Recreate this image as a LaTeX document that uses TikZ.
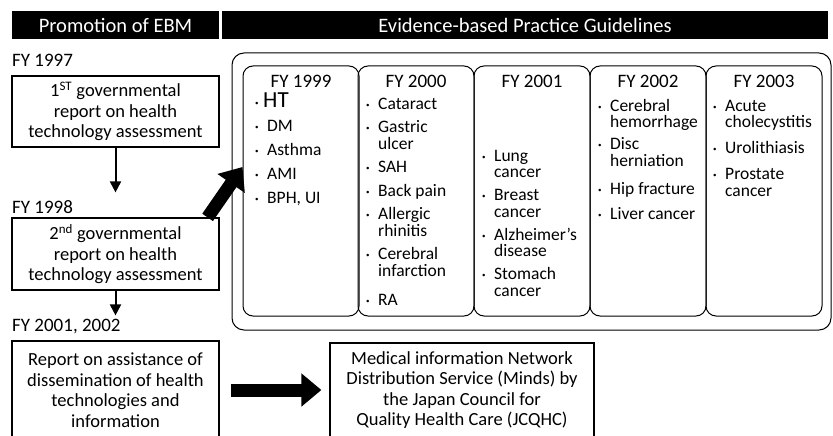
\documentclass[tikz,border=0pt]{standalone}
\usepackage{fontspec}
\setmainfont{Carlito}
\usetikzlibrary{arrows.meta,positioning}

\tikzset{
  bar/.style={fill=black, text=white, minimum height=28pt, inner sep=0pt, font=\fontsize{20.5}{22}\selectfont},
  report/.style={draw, line width=1.2pt, minimum width=207pt, align=center, inner sep=0pt, font=\fontsize{18.5}{20.5}\selectfont},
  year/.style={anchor=west, inner sep=0pt, font=\fontsize{19}{20}\selectfont},
  panel/.style={draw, line width=1pt, rounded corners=10pt, minimum width=116pt, minimum height=250pt, inner sep=0pt},
  ptitle/.style={font=\fontsize{19}{20}\selectfont, inner sep=0pt},
  items/.style={anchor=north west, align=left, inner sep=0pt, font=\fontsize{17.5}{16.5}\selectfont\lineskiplimit-20pt\relax},
  flow/.style={line width=2pt, -{Triangle[length=11pt,width=11pt]}},
  fat/.style={line width=13pt, -{Triangle[length=20pt,width=32pt]}},
}
\newcommand{\itdot}{\raisebox{2pt}{\scriptsize\textbullet}}
\newcommand{\itm}[1]{\rule{0pt}{13pt}\makebox[12pt][l]{\itdot}#1}
\newcommand{\contd}[1]{\rule{0pt}{13pt}\hspace*{12pt}#1}

\begin{document}
\begin{tikzpicture}[x=1pt,y=-1pt]
\useasboundingbox (0,0) rectangle (833,436);

\node[bar, minimum width=207pt] (hdrebm) at (115.5,25) {Promotion of EBM};
\node[bar, minimum width=606pt] (hdrgl) at (525,25) {Evidence-based Practice Guidelines};

\node[year] (fy97) at (12,60) {FY 1997};
\node[report, minimum height=71pt] (rep1) at (115.5,111.5)
  {1\textsuperscript{ST} governmental\\report on health\\technology assessment};
\node[year] (fy98) at (12,207) {FY 1998};
\node[report, minimum height=72pt] (rep2) at (115.5,254)
  {2\textsuperscript{nd} governmental\\report on health\\technology assessment};
\node[year] (fy0102) at (12,327) {FY 2001, 2002};
\node[report, minimum height=98pt] (rep3) at (115.5,390)
  {Report on assistance of\\dissemination of health\\technologies and\\information};
\node[report, minimum width=264pt, minimum height=94pt] (minds) at (462,390)
  {Medical information Network\\Distribution Service (Minds) by\\the Japan Council for\\Quality Health Care (JCQHC)};

\draw[flow, shorten >=25pt] (rep1) -- (rep2);
\draw[flow, shorten >=25pt] (rep2) -- (rep3);

\node[draw, line width=1pt, rounded corners=12pt, minimum width=599pt, minimum height=277pt] (guide) at (531.5,191.5) {};
\foreach \x/\yr in {243/1999, 358/2000, 474/2001, 590/2002, 706/2003} {
\node[panel] (p\yr) at (\x+58,191) {};
\node[ptitle] (t\yr) at (\x+58,81) {FY \yr};
}

\node[items] (l1999) at (255,91) {\rule{0pt}{16pt}\makebox[8pt][l]{\itdot}{\fontsize{23}{19}\selectfont HT}\\[7.5pt]
\itm{DM}\\[7.5pt]
\itm{Asthma}\\[7.5pt]
\itm{AMI}\\[7.5pt]
\itm{BPH, UI}};
\node[items] (l2000) at (366,96) {\itm{Cataract}\\[7pt]
\itm{Gastric}\\ \contd{ulcer}\\[7pt]
\itm{SAH}\\[7pt]
\itm{Back pain}\\[7pt]
\itm{Allergic}\\ \contd{rhinitis}\\[7pt]
\itm{Cerebral}\\ \contd{infarction}\\[13pt]
\itm{RA}};
\node[items] (l2001) at (482,148) {\itm{Lung}\\ \contd{cancer}\\[6.5pt]
\itm{Breast}\\ \contd{cancer}\\[6.5pt]
\itm{Alzheimer's}\\ \contd{disease}\\[6.5pt]
\itm{Stomach}\\ \contd{cancer}};
\node[items] (l2002) at (598,98) {\itm{Cerebral}\\ \contd{hemorrhage}\\[5.5pt]
\itm{Disc}\\ \contd{herniation}\\[11.5pt]
\itm{Hip fracture}\\[8.5pt]
\itm{Liver cancer}};
\node[items] (l2003) at (713,98) {\itm{Acute}\\ \contd{cholecystitis}\\[9.5pt]
\itm{Urolithiasis}\\[9.5pt]
\itm{Prostate}\\ \contd{cancer}};

\draw[fat] ([xshift=-12pt]rep2.north east) -- ([yshift=24pt]p1999.west);
\draw[fat, shorten <=11pt, shorten >=8pt] (rep3) -- (minds);

\end{tikzpicture}
\end{document}
